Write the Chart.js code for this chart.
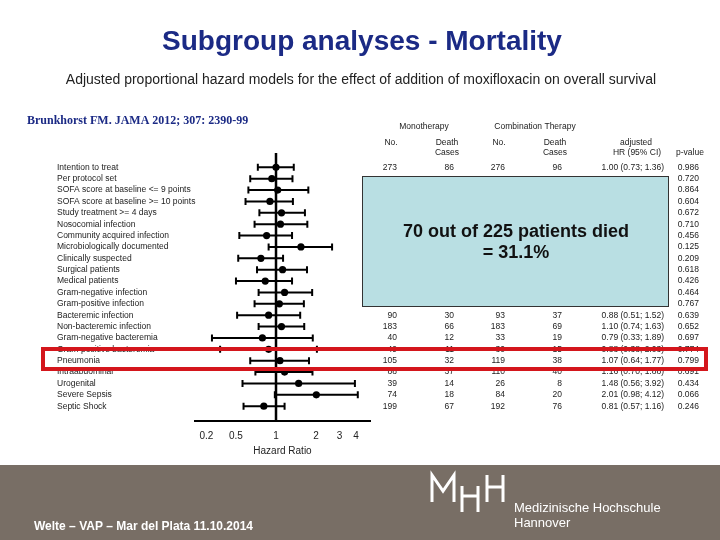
<!DOCTYPE html>
<html><head><meta charset="utf-8">
<script src="https://cdn.jsdelivr.net/npm/chart.js@4/dist/chart.umd.min.js"></script>
<style>html,body{margin:0;padding:0;background:#fff;}#wrap{width:720px;height:540px;}</style>
</head><body><div id="wrap"><canvas id="c" width="720" height="540"></canvas></div>
<script>
// ---- data ----
const subgroups = [
  "Intention to treat","Per protocol set","SOFA score at baseline <= 9 points",
  "SOFA score at baseline >= 10 points","Study treatment >= 4 days","Nosocomial infection",
  "Community acquired infection","Microbiologically documented","Clinically suspected",
  "Surgical patients","Medical patients","Gram-negative infection","Gram-positive infection",
  "Bacteremic infection","Non-bacteremic infection","Gram-negative bacteremia",
  "Gram-positive bacteremia","Pneumonia","Intraabdominal","Urogenital","Severe Sepsis","Septic Shock"
];
const hazardRatio = [1.00,0.93,1.03,0.90,1.10,1.08,0.85,1.54,0.77,1.12,0.83,1.16,1.06,0.88,1.10,0.79,0.88,1.07,1.16,1.48,2.01,0.81];
const ciLow  = [0.73,0.64,0.62,0.59,0.75,0.69,0.53,0.88,0.52,0.72,0.50,0.74,0.69,0.51,0.74,0.33,0.38,0.64,0.70,0.56,0.98,0.57];
const ciHigh = [1.36,1.33,1.75,1.34,1.65,1.72,1.32,2.64,1.13,1.71,1.32,1.87,1.62,1.52,1.63,1.89,2.03,1.77,1.88,3.92,4.12,1.16];
// table cells (null = hidden behind the call-out box)
const monoN      = [273,null,null,null,null,null,null,null,null,null,null,null,null,90,183,40,49,105,88,39,74,199];
const monoDeaths = [86,null,null,null,null,null,null,null,null,null,null,null,null,30,66,12,11,32,37,14,18,67];
const combN      = [276,null,null,null,null,null,null,null,null,null,null,null,null,93,183,33,30,119,110,26,84,192];
const combDeaths = [96,null,null,null,null,null,null,null,null,null,null,null,null,37,69,19,15,38,40,8,20,76];
const pValues = ["0.986","0.720","0.864","0.604","0.672","0.710","0.456","0.125","0.209","0.618","0.426","0.464","0.767","0.639","0.652","0.697","0.774","0.799","0.691","0.434","0.066","0.246"];
// axis ticks as printed in the reference (first label sits where 0.3 would be)
const tickValues = [0.3,0.5,1,2,3,4];
const tickLabels = ["0.2","0.5","1","2","3","4"];

const SANS = "'Liberation Sans', Arial, sans-serif";
const NARROW = "'Liberation Sans Narrow', 'Liberation Sans', sans-serif";

const points = hazardRatio.map((v,i)=>({x:v,y:i+1}));

function narrowText(ctx, text, x, y, sx){
  ctx.save(); ctx.translate(x,y); ctx.scale(sx,1); ctx.fillText(text,0,0); ctx.restore();
}

const overlay = {
  id:'overlay',
  beforeDraw(chart){
    const ctx = chart.ctx; ctx.save();
    ctx.fillStyle='#ffffff'; ctx.fillRect(0,0,720,540);
    ctx.fillStyle='#786e65'; ctx.fillRect(0,465,720,75);
    ctx.restore();
  },
  beforeDatasetsDraw(chart){
    const ctx = chart.ctx, xs = chart.scales.x, ys = chart.scales.y;
    ctx.save(); ctx.strokeStyle='#000'; ctx.lineWidth=2;
    for(let i=0;i<hazardRatio.length;i++){
      const y = ys.getPixelForValue(i+1);
      const x1 = xs.getPixelForValue(ciLow[i]), x2 = xs.getPixelForValue(ciHigh[i]);
      ctx.beginPath(); ctx.moveTo(x1,y); ctx.lineTo(x2,y);
      ctx.moveTo(x1,y-3.5); ctx.lineTo(x1,y+3.5);
      ctx.moveTo(x2,y-3.5); ctx.lineTo(x2,y+3.5);
      ctx.stroke();
    }
    ctx.restore();
  },
  afterDraw(chart){
    const ctx = chart.ctx, ys = chart.scales.y;
    ctx.save();
    // titles
    ctx.textBaseline='middle'; ctx.textAlign='center';
    ctx.fillStyle='#1b2a85'; ctx.font="bold 28px "+SANS;
    ctx.fillText("Subgroup analyses - Mortality",362,42);
    ctx.fillStyle='#222'; ctx.font="14px "+SANS;
    ctx.fillText("Adjusted proportional hazard models for the effect of addition of moxifloxacin on overall survival",361,80);
    ctx.textAlign='left'; ctx.fillStyle='#1b2a85'; ctx.font="bold 12px 'Liberation Serif', 'Times New Roman', serif";
    ctx.fillText("Brunkhorst FM. JAMA 2012; 307: 2390-99",27,121);
    // headers
    ctx.fillStyle='#222'; ctx.font="8.5px "+SANS; ctx.textAlign='center';
    ctx.fillText("Monotherapy",424,127);
    ctx.fillText("Combination Therapy",535,127);
    ctx.fillText("No.",391,143); ctx.fillText("Death",447,143); ctx.fillText("Cases",447,153);
    ctx.fillText("No.",499,143); ctx.fillText("Death",555,143); ctx.fillText("Cases",555,153);
    ctx.fillText("adjusted",636,143); ctx.fillText("HR (95% CI)",637,153);
    ctx.fillText("p-value",690,153);
    // rows
    for(let i=0;i<subgroups.length;i++){
      const y = ys.getPixelForValue(i+1);
      ctx.textAlign='left'; ctx.fillText(subgroups[i],57,y);
      ctx.textAlign='right';
      if(monoN[i]!==null){
        ctx.fillText(String(monoN[i]),397,y);
        ctx.fillText(String(monoDeaths[i]),454,y);
        ctx.fillText(String(combN[i]),505,y);
        ctx.fillText(String(combDeaths[i]),562,y);
        ctx.fillText(hazardRatio[i].toFixed(2)+" ("+ciLow[i].toFixed(2)+"; "+ciHigh[i].toFixed(2)+")",664,y);
      }
      ctx.fillText(pValues[i],699,y);
    }
    // call-out box
    ctx.fillStyle='#b9dfe3'; ctx.fillRect(362,176,307,131);
    ctx.strokeStyle='#333'; ctx.lineWidth=1; ctx.strokeRect(362.5,176.5,306,130);
    ctx.fillStyle='#111'; ctx.font="bold 18px "+SANS; ctx.textAlign='center';
    ctx.fillText("70 out of 225 patients died",516,232);
    ctx.fillText("= 31.1%",516,253);
    // red highlight
    ctx.strokeStyle='#d4161c'; ctx.lineWidth=4; ctx.strokeRect(43,349,663,20);
    // footer
    ctx.fillStyle='#fff'; ctx.textAlign='left';
    ctx.font="bold 12px "+NARROW;
    narrowText(ctx,"Welte \u2013 VAP \u2013 Mar del Plata 11.10.2014",34,527,1.0);
    ctx.font="13px "+NARROW;
    narrowText(ctx,"Medizinische Hochschule",514,508,1.0);
    narrowText(ctx,"Hannover",514,523,1.0);
    ctx.strokeStyle='#fff'; ctx.lineWidth=3; ctx.beginPath();
    ctx.moveTo(432,502); ctx.lineTo(432,475); ctx.lineTo(443,491); ctx.lineTo(454,475); ctx.lineTo(454,502);
    ctx.moveTo(462,486); ctx.lineTo(462,512); ctx.moveTo(478,486); ctx.lineTo(478,512); ctx.moveTo(462,496); ctx.lineTo(478,496);
    ctx.moveTo(487,475); ctx.lineTo(487,502); ctx.moveTo(503,475); ctx.lineTo(503,502); ctx.moveTo(487,487); ctx.lineTo(503,487);
    ctx.stroke();
    ctx.restore();
  }
};

new Chart(document.getElementById('c'),{
  type:'scatter',
  data:{datasets:[
    {data:points, pointRadius:3.6, pointHoverRadius:3.6, pointBackgroundColor:'#000', pointBorderColor:'#000', borderWidth:0, order:1},
    {type:'line', data:[{x:1,y:-0.26},{x:1,y:23.3}], borderColor:'#000', borderWidth:2.5, pointRadius:0, showLine:true, clip:false, order:2}
  ]},
  options:{
    responsive:false, animation:false, devicePixelRatio:1,
    layout:{padding:{left:195,right:350,top:153,bottom:79}},
    plugins:{legend:{display:false},tooltip:{enabled:false},title:{display:false}},
    scales:{
      x:{type:'logarithmic', position:'bottom', min:0.246, max:5.09,
         afterBuildTicks:(axis)=>{axis.ticks = tickValues.map(v=>({value:v}));},
         afterFit:(axis)=>{axis.height=40;},
         grid:{display:false, drawTicks:false},
         border:{display:true, color:'#000', width:2},
         ticks:{autoSkip:false, maxRotation:0, padding:9, color:'#222', font:{family:SANS,size:10},
                callback:(v,i)=>tickLabels[i]},
         title:{display:true, text:'Hazard Ratio', color:'#222', font:{family:SANS,size:10}, padding:{top:0,bottom:4}}
      },
      y:{type:'linear', display:false, reverse:true, min:-0.26, max:23.3}
    }
  },
  plugins:[overlay]
});
</script></body></html>
